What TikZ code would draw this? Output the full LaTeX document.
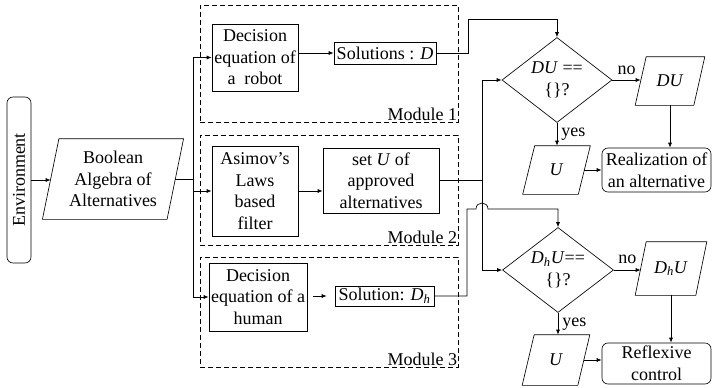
\documentclass[tikz,border=0pt]{standalone}
\usepackage{fontspec}
\setmainfont{Liberation Serif}
\usetikzlibrary{shapes.geometric,arrows.meta}
\newcommand{\plgram}[2]{%
  \draw ([xshift=-#2]#1.south west) -- ([xshift=-#2]#1.south east) -- ([xshift=#2]#1.north east) -- ([xshift=#2]#1.north west) -- cycle;}
\begin{document}
\begin{tikzpicture}[x=1pt,y=-1pt,line width=0.65pt,
  font=\fontsize{18}{21.6}\selectfont,
  box/.style={draw,inner sep=0pt,align=center},
  rbox/.style={box,rounded corners=6pt},
  pbox/.style={inner sep=0pt,align=center},
  modbox/.style={draw,dash pattern=on 5pt off 3pt,inner sep=0pt},
  dec/.style={draw,diamond,inner sep=0pt,aspect=1.3,align=center},
  arr/.style={-{Latex[length=5pt,width=4pt]}},
  modlabel/.style={anchor=south east,inner sep=1pt}]
\useasboundingbox (0,0) rectangle (712,388);

% modules
\node[modbox,minimum width=258pt,minimum height=117pt] (m1) at (329,63.5) {};
\node[modbox,minimum width=258pt,minimum height=110pt] (m2) at (329,190) {};
\node[modbox,minimum width=258pt,minimum height=110pt] (m3) at (329,312) {};
\node[modlabel] (m1l) at (m1.south east) {Module 1};
\node[modlabel] (m2l) at (m2.south east) {Module 2};
\node[modlabel] (m3l) at (m3.south east) {Module 3};

% left part
\node[rbox,minimum width=24pt,minimum height=166pt] (env) at (19,180) {\rotatebox{90}{Environment}};
\node[pbox,minimum width=124pt,minimum height=80pt] (bool) at (113,179) {Boolean\\Algebra of\\Alternatives};
\plgram{bool}{8.25pt}

\node[box,minimum width=86pt,minimum height=67pt] (robot) at (255,57.5) {Decision\\equation of\\a\ \ robot};
\node[box,minimum width=102pt,minimum height=22pt] (solD) at (385,53) {Solutions : \textit{D}};
\node[box,minimum width=86pt,minimum height=90pt] (asimov) at (255,191) {Asimov’s\\Laws\\based\\filter};
\node[box,minimum width=116pt,minimum height=65pt] (setU) at (381,180.5) {set \textit{U} of\\approved\\alternatives};
\node[box,minimum width=98pt,minimum height=68pt] (human) at (258,297) {Decision\\equation of a\\human};
\node[box,minimum width=99pt,minimum height=20pt] (solDh) at (384.5,296) {Solution: \textit{D}\textsubscript{\textit{h}}};

% right part
\node[dec,minimum width=110pt,minimum height=85pt] (d1) at (557,80) {\textit{DU} ==\\\{\}?};
\node[dec,minimum width=111pt,minimum height=85pt] (d2) at (558,270) {\textit{D}\textsubscript{\textit{h}}\textit{U}==\\\{\}?};
\node[pbox,minimum width=58pt,minimum height=48pt] (DU) at (670,81) {\textit{DU}};
\plgram{DU}{5.5pt}
\node[pbox,minimum width=55pt,minimum height=48pt] (U1) at (556.5,170) {\textit{U}};
\plgram{U1}{6pt}
\node[rbox,minimum width=109pt,minimum height=44pt] (real) at (656.5,170) {Realization of\\an alternative};
\node[pbox,minimum width=60pt,minimum height=53pt] (DhU) at (671,268.5) {\textit{D}\textsubscript{\textit{h}}\textit{U}};
\plgram{DhU}{5.5pt}
\node[pbox,minimum width=55pt,minimum height=50pt] (U2) at (556,360) {\textit{U}};
\plgram{U2}{6pt}
\node[rbox,minimum width=109pt,minimum height=41pt] (refl) at (656.5,363.5) {Reflexive\\control};

% connectors left
\coordinate (tr) at (193,179);
\draw[arr] (env.east) -- (env.east -| bool.west);
\draw (bool.east) -- (tr);
\draw (tr |- robot.west) -- (tr |- human.west);
\draw[arr] (tr |- robot.west) -- (robot.west);
\draw[arr] (tr |- asimov.west) -- (asimov.west);
\draw[arr] (tr |- human.west) -- (human.west);
\draw[arr] (robot.east |- solD.west) -- (solD.west);
\draw[arr] (asimov.east) -- (asimov.east -| setU.west);
\draw[arr,shorten <=6pt,shorten >=8pt] (human.east |- solDh.west) -- (solDh.west);

% connectors middle
\coordinate (c1) at (468,19);
\draw[arr] (solD.east) -| (c1) -| (d1.north);
\coordinate (vx) at (482,180.5);
\draw (setU.east) -- (vx);
\draw (vx |- d1.west) -- (vx |- d2.west);
\draw[arr] (vx |- d1.west) -- (d1.west);
\draw[arr] (vx |- d2.west) -- (d2.west);
\coordinate (c2) at (467,209);
\coordinate (hopL) at (476,209);
\coordinate (hopR) at (488,209);
\draw[arr] (solDh.east) -| (c2) -- (hopL) .. controls +(0,-8) and +(0,-8) .. (hopR) -| (d2.north);

% connectors right
\draw[arr] (d1.east) -- (d1.east -| DU.west) node[midway,above,inner sep=5pt] {no};
\draw[arr] (d2.east) -- (d2.east -| DhU.west) node[midway,above,inner sep=6pt] {no};
\draw[arr] (d1.south) -- (d1.south |- U1.north) node[midway,right,inner sep=4pt] {yes};
\draw[arr] (d2.south) -- (d2.south |- U2.north) node[midway,right,inner sep=4pt] {yes};
\draw[arr] (DU.south) -- (DU.south |- real.north);
\draw[arr] (DhU.south) -- (DhU.south |- refl.north);
\draw[arr] (U1.east) -- (U1.east -| real.west);
\draw[arr] (U2.east) -- (U2.east -| refl.west);
\end{tikzpicture}
\end{document}
